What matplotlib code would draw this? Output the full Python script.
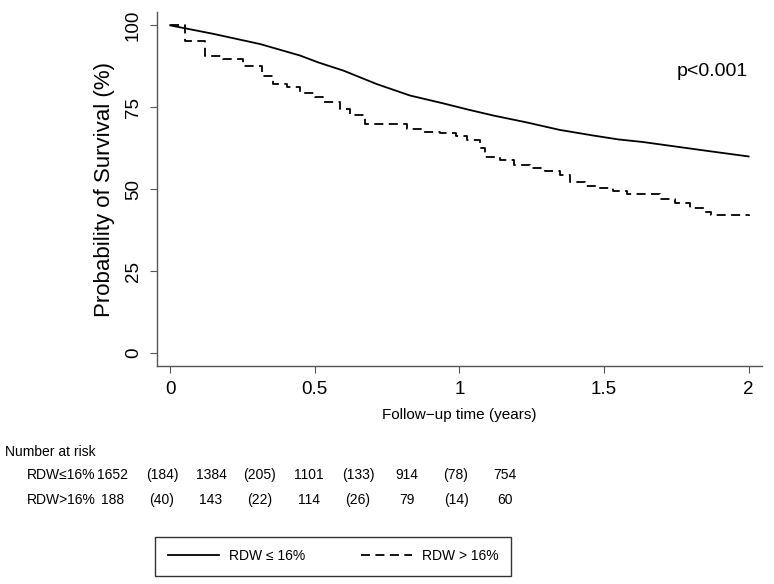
import matplotlib
matplotlib.use("Agg")
import matplotlib.pyplot as plt

plt.rcParams['font.family'] = ['Liberation Sans', 'DejaVu Sans']

# survival curves (years / %)
low_t = [0, 0.15, 0.311, 0.449, 0.512, 0.599, 0.714, 0.829, 0.944, 1.03, 1.117, 1.232,
         1.347, 1.462, 1.549, 1.635, 1.75, 1.865, 2.0]
low_s = [100, 97.4, 94.3, 90.8, 88.7, 86.2, 82.1, 78.6, 76.2, 74.3, 72.5, 70.4,
         68.1, 66.4, 65.2, 64.4, 63.0, 61.6, 60.0]

high_t = [0, 0.052, 0.121, 0.184, 0.253, 0.317, 0.357, 0.403, 0.449, 0.5, 0.53, 0.587,
          0.622, 0.674, 0.818, 0.875, 0.933, 0.99, 1.025, 1.07, 1.09, 1.14, 1.19, 1.243,
          1.295, 1.347, 1.382, 1.433, 1.474, 1.531, 1.578, 1.693, 1.744, 1.796, 1.848,
          1.871, 2.0]
high_s = [100, 95.3, 90.8, 89.7, 87.7, 84.7, 82.1, 81.1, 79.4, 78.0, 76.5, 74.5,
          72.7, 69.9, 68.4, 67.6, 67.1, 66.1, 65.1, 62.5, 59.8, 58.8, 57.5, 56.5,
          55.5, 54.2, 52.1, 51.1, 50.4, 49.6, 48.6, 46.9, 45.7, 44.3, 43.0,
          42.0, 41.7]

# number at risk (censored in brackets)
risk_low = ["1652", "(184)", "1384", "(205)", "1101", "(133)", "914", "(78)", "754"]
risk_high = ["188", "(40)", "143", "(22)", "114", "(26)", "79", "(14)", "60"]

fig = plt.figure(figsize=(7.74, 5.84), dpi=100)
ax = fig.add_axes([0.203, 0.373, 0.781, 0.606])

ax.plot(low_t, low_s, color='black', lw=1.3, label='RDW \u2264 16%')
ax.step(high_t, high_s, where='post', color='black', lw=1.3, ls=(0, (5, 3)),
        label='RDW > 16%')

ax.set_xlim(-0.045, 2.045)
ax.set_ylim(-4, 104)
ax.set_xticks([0, 0.5, 1, 1.5, 2])
ax.set_xticklabels(['0', '0.5', '1', '1.5', '2'])
ax.set_yticks([0, 25, 50, 75, 100])
for s in ['top', 'right']:
    ax.spines[s].set_visible(False)
for s in ['left', 'bottom']:
    ax.spines[s].set_color('#555555')
    ax.spines[s].set_linewidth(1.0)
ax.tick_params(colors='#555555', labelcolor='black', labelsize=13.5, length=5, pad=6)
plt.setp(ax.get_yticklabels(), rotation=90, va='center')
ax.set_xlabel('Follow\u2212up time (years)', fontsize=11, labelpad=7)
ax.set_ylabel('Probability of Survival (%)', fontsize=16, labelpad=7)
ax.text(0.977, 0.833, 'p<0.001', transform=ax.transAxes, ha='right', va='center', fontsize=14)

# risk table
fig.text(5 / 774, 1 - 452 / 584, 'Number at risk', fontsize=10, va='center')
x0, dx = 113, 49
for row, (lab, vals) in enumerate([('RDW\u226416%', risk_low), ('RDW>16%', risk_high)]):
    y = 1 - (475 + 25 * row) / 584
    fig.text(27 / 774, y, lab, fontsize=10, va='center')
    for i, v in enumerate(vals):
        fig.text((x0 + dx * i) / 774, y, v, fontsize=10, va='center', ha='center')

leg = fig.legend(loc='center', bbox_to_anchor=(333 / 774, 1 - 556 / 584), ncol=2,
                 frameon=True, fancybox=False, edgecolor='black', fontsize=10,
                 handlelength=3.7, columnspacing=4.0, borderpad=0.9, handletextpad=0.7)
leg.get_frame().set_linewidth(1.0)

fig.savefig('out.png', dpi=100)
